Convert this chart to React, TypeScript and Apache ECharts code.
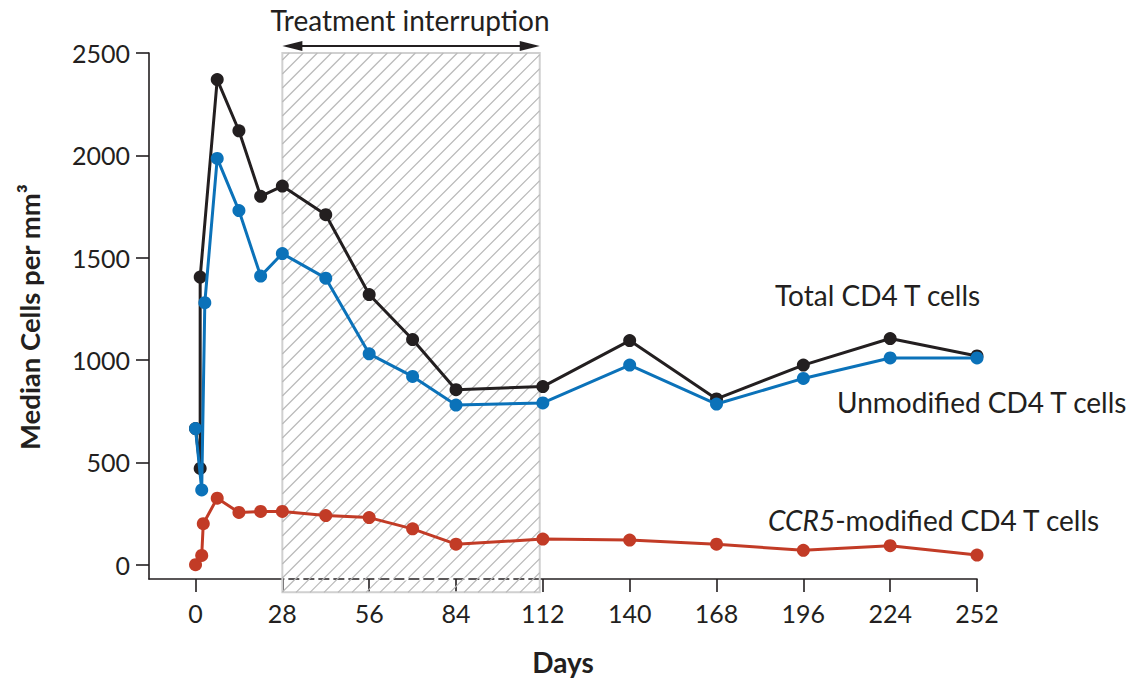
import React, { useEffect, useRef } from "react";
import * as echarts from "echarts";

const dayTicks = [0, 28, 56, 84, 112, 140, 168, 196, 224, 252];
const cellTicks = [0, 500, 1000, 1500, 2000, 2500];

const totalDays = [0, 1.5, 1.5, 7, 14, 21, 28, 42, 56, 70, 84, 112, 140, 168, 196, 224, 252];
const totalCells = [665, 470, 1405, 2370, 2120, 1800, 1850, 1710, 1320, 1100, 855, 870, 1095, 810, 975, 1105, 1020];

const unmodifiedDays = [0, 2, 3, 7, 14, 21, 28, 42, 56, 70, 84, 112, 140, 168, 196, 224, 252];
const unmodifiedCells = [665, 365, 1280, 1985, 1730, 1410, 1520, 1400, 1030, 920, 780, 790, 975, 785, 910, 1010, 1010];

const ccr5Days = [0, 2, 2.5, 7, 14, 21, 28, 42, 56, 70, 84, 112, 140, 168, 196, 224, 252];
const ccr5Cells = [0, 45, 200, 325, 255, 260, 260, 240, 230, 175, 100, 125, 120, 100, 70, 93, 47];

const interruption = [28, 111];

const FONT = "Lato, 'Open Sans', sans-serif";
const INK = "#231f20";

const zip = (xs: number[], ys: number[]) => xs.map((x, i) => [x, ys[i]]);

export default function App() {
  const ref = useRef<HTMLDivElement>(null);
  useEffect(() => {
    const chart = echarts.init(ref.current!, null, { renderer: "svg" });
    const lineSeries = (name: string, xs: number[], ys: number[], color: string, z: number) => ({
      name,
      type: "line",
      data: zip(xs, ys),
      symbol: "circle",
      symbolSize: 13,
      z,
      lineStyle: { color, width: 3 },
      itemStyle: { color },
      emphasis: { disabled: true },
    });
    const option: any = {
      animation: false,
      backgroundColor: "#fff",
      grid: { left: 149, right: 153, top: 53, bottom: 101 },
      xAxis: {
        type: "value",
        min: -15,
        max: 252,
        splitLine: { show: false },
        axisLine: { onZero: false, lineStyle: { color: INK, width: 1.6 } },
        axisTick: { length: 13, lineStyle: { color: INK, width: 1.6 }, customValues: dayTicks },
        axisLabel: {
          customValues: dayTicks,
          margin: 21,
          color: INK,
          fontSize: 25,
          fontFamily: FONT,
          formatter: (v: number) => String(v),
        },
      },
      yAxis: {
        type: "value",
        min: -70,
        max: 2500,
        splitLine: { show: false },
        axisLine: { show: true, onZero: false, lineStyle: { color: INK, width: 1.6 } },
        axisTick: { show: true, length: 13, lineStyle: { color: INK, width: 1.6 }, customValues: cellTicks },
        axisLabel: {
          customValues: cellTicks,
          margin: 19,
          color: INK,
          fontSize: 25,
          fontFamily: FONT,
          formatter: (v: number) => String(v),
        },
      },
      graphic: [
        {
          type: "text",
          x: 29,
          y: 317,
          rotation: Math.PI / 2,
          style: {
            text: "Median Cells per mm³",
            font: `bold 27.5px ${FONT}`,
            fill: INK,
            textAlign: "center",
            textVerticalAlign: "middle",
          },
        },
        {
          type: "text",
          x: 563,
          y: 662,
          style: { text: "Days", font: `bold 28px ${FONT}`, fill: INK, textAlign: "center", textVerticalAlign: "middle" },
        },
        {
          type: "text",
          x: 410,
          y: 20,
          style: { text: "Treatment interruption", font: `28px ${FONT}`, fill: INK, textAlign: "center", textVerticalAlign: "middle" },
        },
        {
          type: "text",
          x: 775,
          y: 295,
          style: { text: "Total CD4 T cells", font: `28px ${FONT}`, fill: INK, textAlign: "left", textVerticalAlign: "middle" },
        },
        {
          type: "text",
          x: 837,
          y: 402,
          style: { text: "Unmodified CD4 T cells", font: `28px ${FONT}`, fill: INK, textAlign: "left", textVerticalAlign: "middle" },
        },
        {
          type: "text",
          x: 768,
          y: 520,
          style: {
            text: "{i|CCR5}{n|-modified CD4 T cells}",
            rich: {
              i: { fontStyle: "italic", fontSize: 28, fontFamily: FONT, fill: INK, color: INK },
              n: { fontSize: 28, fontFamily: FONT, fill: INK, color: INK },
            },
            textAlign: "left",
            textVerticalAlign: "middle",
          },
        },
      ],
      series: [
        {
          type: "custom",
          clip: false,
          z: 1,
          silent: true,
          data: [interruption],
          renderItem: (_p: any, api: any) => {
            const [xa, ya] = api.coord([api.value(0), 2500]);
            const [xb, yb] = api.coord([api.value(1), -135]);
            const axisY = api.coord([0, -70])[1];
            const children: any[] = [];
            children.push({
              type: "rect",
              shape: { x: xa, y: ya, width: xb - xa, height: yb - ya },
              style: { fill: "rgba(255,255,255,0)", stroke: "#d0d0d0", lineWidth: 2 },
            });
            const step = 14;
            for (let c = xa + ya + step / 2; c < xb + yb; c += step) {
              const lo = Math.max(xa, c - yb);
              const hi = Math.min(xb, c - ya);
              if (hi <= lo) continue;
              children.push({
                type: "line",
                shape: { x1: lo, y1: c - lo, x2: hi, y2: c - hi },
                style: { stroke: "#b8b8b8", lineWidth: 1.2 },
              });
            }
            children.push({
              type: "line",
              shape: { x1: xa + 2, y1: axisY, x2: xb - 2, y2: axisY },
              style: { stroke: "#fff", lineWidth: 3, lineDash: [4, 11] },
            });
            const ay = ya - 7;
            children.push({
              type: "line",
              shape: { x1: xa + 10, y1: ay, x2: xb - 10, y2: ay },
              style: { stroke: INK, lineWidth: 2 },
            });
            children.push({
              type: "polygon",
              shape: { points: [[xa, ay], [xa + 20, ay - 5], [xa + 20, ay + 5]] },
              style: { fill: INK },
            });
            children.push({
              type: "polygon",
              shape: { points: [[xb, ay], [xb - 20, ay - 5], [xb - 20, ay + 5]] },
              style: { fill: INK },
            });
            return { type: "group", children };
          },
        },
        lineSeries("Total CD4 T cells", totalDays, totalCells, "#231f20", 3),
        lineSeries("Unmodified CD4 T cells", unmodifiedDays, unmodifiedCells, "#0b72b9", 4),
        lineSeries("CCR5-modified CD4 T cells", ccr5Days, ccr5Cells, "#c23b26", 5),
      ],
    };
    chart.setOption(option);
    return () => chart.dispose();
  }, []);
  return (
    <div
      ref={ref}
      style={{ position: "fixed", left: 0, top: 0, width: 1130, height: 680, background: "#fff" }}
    />
  );
}
